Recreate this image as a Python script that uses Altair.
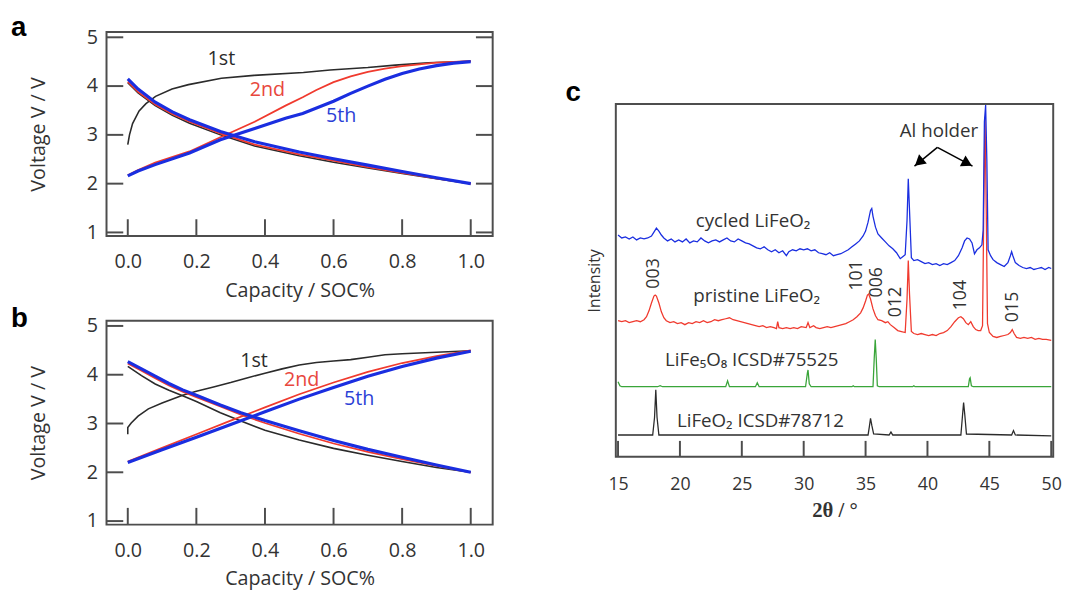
import altair as alt
import pandas as pd

# ---------------- Panel a (voltage curves) ----------------
a_1st_ch_cap = [0.0, 0.005, 0.014, 0.033, 0.053, 0.081, 0.129, 0.177, 0.273, 0.368, 0.512, 0.59, 0.7, 0.78, 0.876, 1.0]
a_1st_ch_v = [2.80, 3.00, 3.23, 3.49, 3.64, 3.79, 3.94, 4.03, 4.16, 4.22, 4.28, 4.33, 4.38, 4.43, 4.48, 4.51]
a_dis_cap = [0.0, 0.03, 0.08, 0.13, 0.18, 0.27, 0.37, 0.5, 0.6, 0.7, 0.8, 0.9, 1.0]
a_1st_dis_v = [4.07, 3.86, 3.60, 3.40, 3.24, 3.00, 2.77, 2.57, 2.44, 2.32, 2.21, 2.10, 2.00]
a_2nd_dis_v = [4.09, 3.88, 3.62, 3.43, 3.27, 3.03, 2.80, 2.60, 2.47, 2.34, 2.22, 2.11, 2.00]
a_5th_dis_v = [4.15, 3.94, 3.67, 3.47, 3.31, 3.07, 2.86, 2.65, 2.51, 2.38, 2.25, 2.12, 2.00]
a_2nd_ch_cap = [0.0, 0.03, 0.08, 0.18, 0.27, 0.37, 0.46, 0.51, 0.55, 0.6, 0.65, 0.7, 0.75, 0.8, 0.9, 1.0]
a_2nd_ch_v = [2.17, 2.28, 2.43, 2.66, 2.95, 3.27, 3.60, 3.77, 3.92, 4.08, 4.20, 4.29, 4.36, 4.41, 4.48, 4.51]
a_5th_ch_cap = [0.0, 0.03, 0.08, 0.18, 0.27, 0.37, 0.46, 0.51, 0.6, 0.65, 0.7, 0.75, 0.8, 0.85, 0.9, 0.95, 1.0]
a_5th_ch_v = [2.16, 2.26, 2.39, 2.63, 2.90, 3.13, 3.34, 3.44, 3.69, 3.85, 4.00, 4.14, 4.26, 4.35, 4.42, 4.47, 4.50]

# ---------------- Panel b ----------------
b_1st_ch_cap = [0.0, 0.0, 0.01, 0.03, 0.06, 0.1, 0.16, 0.2, 0.25, 0.3, 0.35, 0.4, 0.45, 0.5, 0.55, 0.6, 0.65, 0.7, 0.75, 0.8, 0.9, 1.0]
b_1st_ch_v = [2.78, 2.92, 3.01, 3.15, 3.30, 3.42, 3.58, 3.66, 3.75, 3.84, 3.94, 4.03, 4.12, 4.20, 4.25, 4.28, 4.31, 4.36, 4.41, 4.43, 4.46, 4.49]
b_dis_cap = [0.0, 0.04, 0.08, 0.12, 0.16, 0.2, 0.27, 0.33, 0.4, 0.5, 0.6, 0.7, 0.8, 0.9, 1.0]
b_1st_dis_v = [4.17, 3.98, 3.81, 3.68, 3.57, 3.45, 3.22, 3.05, 2.86, 2.66, 2.49, 2.35, 2.22, 2.10, 2.00]
b_2nd_dis_v = [4.23, 4.08, 3.93, 3.78, 3.65, 3.54, 3.35, 3.18, 3.01, 2.79, 2.59, 2.42, 2.27, 2.13, 2.00]
b_5th_dis_v = [4.27, 4.12, 3.97, 3.82, 3.69, 3.58, 3.38, 3.22, 3.06, 2.85, 2.65, 2.47, 2.31, 2.15, 2.00]
b_ch_cap = [0.0, 0.1, 0.2, 0.3, 0.4, 0.5, 0.6, 0.7, 0.8, 0.9, 1.0]
b_2nd_ch_v = [2.22, 2.50, 2.78, 3.06, 3.33, 3.60, 3.84, 4.06, 4.24, 4.38, 4.50]
b_5th_ch_v = [2.20, 2.46, 2.72, 2.98, 3.24, 3.50, 3.74, 3.97, 4.17, 4.34, 4.48]

cycle_names = ["1st", "2nd", "5th"]
a_label_cap = [0.273, 0.407, 0.622]
a_label_v = [4.56, 3.92, 3.39]
b_label_cap = [0.368, 0.507, 0.675]
b_label_v = [4.28, 3.90, 3.51]

x_ticks_ab = [0.0, 0.2, 0.4, 0.6, 0.8, 1.0]
y_ticks_ab = [1, 2, 3, 4, 5]

# ---------------- Panel c (XRD) ----------------
cyc_tt = [15.0, 15.3, 15.6, 15.9, 16.2, 16.5, 16.8, 17.1, 17.4, 17.7, 17.9, 18.1, 18.3, 18.5, 18.7, 19.0, 19.3, 19.6, 19.9, 20.2,
          20.5, 20.8, 21.1, 21.4, 21.7, 22.0, 22.3, 22.6, 22.9, 23.2, 23.5, 23.8, 24.1, 24.4, 24.7, 25.0, 25.3, 25.6, 25.9, 26.2,
          26.5, 26.8, 27.1, 27.4, 27.7, 28.0, 28.3, 28.6, 28.8, 29.1, 29.4, 29.7, 30.0, 30.3, 30.6, 30.9, 31.2, 31.5, 31.8, 32.1,
          32.4, 32.7, 33.0, 33.3, 33.6, 33.9, 34.2, 34.5, 34.8, 35.0, 35.2, 35.4, 35.5, 35.6, 35.8, 36.0, 36.3, 36.6, 36.9, 37.2,
          37.5, 37.8, 38.0, 38.2, 38.35, 38.45, 38.55, 38.7, 38.9, 39.2, 39.5, 39.8, 40.1, 40.4, 40.7, 41.0, 41.3, 41.6, 41.9, 42.2,
          42.5, 42.8, 43.0, 43.2, 43.4, 43.6, 43.8, 44.0, 44.2, 44.4, 44.5, 44.6, 44.7, 44.8, 44.9, 45.1, 45.3, 45.6, 45.9, 46.2,
          46.5, 46.7, 46.8, 46.9, 47.1, 47.4, 47.7, 48.0, 48.3, 48.6, 48.9, 49.2, 49.5, 49.8, 50.0]
cyc_int = [225, 222, 223, 221, 223, 220, 222, 221, 222, 224, 228, 232, 229, 225, 222, 219, 221, 218, 220, 218,
           221, 217, 219, 218, 222, 219, 217, 219, 220, 218, 220, 222, 219, 218, 221, 219, 217, 216, 214, 212,
           211, 213, 210, 208, 210, 207, 209, 204, 208, 210, 209, 211, 210, 211, 209, 210, 207, 206, 205, 207,
           204, 205, 206, 208, 210, 213, 216, 219, 224, 229, 238, 250, 252, 244, 233, 226, 222, 218, 214, 211,
           207, 201, 203, 205, 240, 282, 250, 202, 199, 200, 198, 196, 197, 195, 196, 194, 196, 195, 197, 199,
           204, 212, 219, 222, 221, 217, 206, 210, 212, 215, 230, 340, 357, 300, 210, 204, 200, 197, 195, 193,
           197, 204, 208, 204, 197, 194, 192, 191, 192, 190, 191, 192, 190, 192, 191]

pri_tt = [15.0, 15.3, 15.6, 15.9, 16.2, 16.5, 16.8, 17.1, 17.3, 17.5, 17.7, 17.9, 18.0, 18.1, 18.3, 18.5, 18.7, 18.9, 19.2, 19.5,
          19.8, 20.1, 20.4, 20.7, 21.0, 21.3, 21.6, 21.9, 22.2, 22.5, 22.8, 23.1, 23.4, 23.7, 24.0, 24.3, 24.6, 24.9, 25.2, 25.5,
          25.8, 26.1, 26.4, 26.7, 27.0, 27.3, 27.6, 27.8, 27.9, 28.0, 28.3, 28.6, 28.9, 29.2, 29.5, 29.8, 30.2, 30.35, 30.5, 30.8,
          31.0, 31.3, 31.6, 31.9, 32.2, 32.5, 32.8, 33.1, 33.4, 33.7, 34.0, 34.3, 34.6, 34.8, 35.0, 35.15, 35.25, 35.4, 35.6, 35.8,
          36.0, 36.3, 36.6, 36.8, 37.0, 37.3, 37.6, 37.9, 38.2, 38.35, 38.45, 38.55, 38.7, 38.9, 39.2, 39.5, 39.8, 40.1, 40.4, 40.7,
          41.0, 41.3, 41.6, 41.9, 42.2, 42.5, 42.7, 42.9, 43.1, 43.3, 43.5, 43.7, 43.9, 44.1, 44.3, 44.45, 44.55, 44.65, 44.75, 44.85,
          45.0, 45.3, 45.6, 45.9, 46.2, 46.5, 46.7, 46.85, 47.0, 47.2, 47.5, 47.8, 48.1, 48.4, 48.7, 49.0, 49.3, 49.6, 50.0]
pri_int = [138, 137, 138, 136, 137, 138, 137, 139, 142, 148, 156, 163, 164, 163, 156, 147, 141, 138, 136, 137,
           135, 136, 134, 136, 135, 137, 136, 138, 136, 137, 139, 138, 139, 140, 141, 139, 138, 137, 136, 135,
           134, 133, 132, 133, 131, 132, 131, 130, 137, 131, 130, 131, 130, 131, 130, 132, 131, 136, 131, 133,
           131, 130, 131, 132, 131, 132, 133, 134, 135, 137, 139, 142, 146, 151, 158, 164, 165, 160, 150, 143,
           139, 138, 136, 137, 134, 131, 128, 127, 126, 160, 199, 165, 127, 125, 124, 125, 124, 123, 124, 123,
           125, 126, 128, 132, 137, 141, 142, 140, 136, 134, 137, 132, 129, 128, 128, 133, 250, 345, 250, 135,
           126, 122, 121, 122, 123, 124, 126, 129, 125, 121, 120, 121, 120, 121, 119, 120, 119, 119, 118]

lfo8_tt = [15.0, 15.15, 15.3, 18.2, 18.4, 18.6, 23.7, 23.85, 24.0, 26.1, 26.25, 26.4, 30.15, 30.3, 30.35, 30.45, 30.6, 33.9, 34.0, 34.1,
           35.6, 35.7, 35.78, 35.86, 35.95, 36.1, 38.8, 38.9, 39.0, 43.3, 43.4, 43.45, 43.55, 43.7, 50.0]
lfo8_int = [76, 72, 71, 71, 72, 71, 71, 77, 71, 71, 75, 71, 71, 85, 88, 74, 71, 71, 72, 71,
            71, 100, 119, 100, 72, 71, 71, 72, 71, 71, 79, 80, 72, 71, 71]

lfo_tt = [15.0, 17.8, 17.95, 18.05, 18.15, 18.3, 35.2, 35.3, 35.4, 35.5, 35.65, 36.9, 37.05, 37.2, 42.7, 42.82, 42.92, 43.02, 43.15, 46.8,
          46.95, 47.1, 50.0]
lfo_int = [22, 22, 40, 68, 40, 22, 22, 30, 39, 32, 23, 22, 25, 22, 22, 40, 55, 42, 23, 22,
           26.5, 22, 21]

hkl_labels = ["003", "101", "006", "012", "104", "015"]
hkl_tt = [17.9, 34.33, 35.92, 37.43, 42.68, 46.9]
hkl_int = [186, 184, 177, 157, 164, 152]

trace_labels = ["cycled LiFeO\u2082", "pristine LiFeO\u2082", "LiFe\u2085O\u2088 ICSD#75525", "LiFeO\u2082 ICSD#78712"]
trace_label_tt = [25.9, 26.2, 25.8, 26.5]
trace_label_int = [239, 163, 98, 36]

x_ticks_c = [15, 20, 25, 30, 35, 40, 45, 50]

# Al holder annotation (data coordinates)
al_text_tt, al_text_int = 40.93, 321
arrow_apex = (40.8, 314)
arrow_tips = [(38.95, 295), (43.64, 295)]
arrow_heads_tt = [39.31, 43.22]
arrow_heads_int = [298.8, 297.8]
arrow_heads_angle = [230, 118]

# ---------------- styling ----------------
FRAME = "#4d4d4d"
TXT = "#333333"
BLACK = "#2b2b2b"
RED = "#f03a2e"
BLUE = "#1a2ee0"
GREEN = "#3aa53a"
FONT = "Open Sans"

W_AB, H_AB = 392, 207
XD_AB = [-0.062, 1.064]
YD_AB = [0.927, 5.107]
W_C, H_C = 444, 358
XD_C = [14.82, 50.16]
YD_C = [0, 358]
TICK_PX = 17
X_PER_PX = (XD_AB[1] - XD_AB[0]) / W_AB
Y_PER_PX = (YD_AB[1] - YD_AB[0]) / H_AB


def long_df(specs):
    rows = []
    for cyc, branch, caps, vs in specs:
        for i, (c, v) in enumerate(zip(caps, vs)):
            rows.append({"cycle": cyc, "branch": branch, "cap": c, "v": v, "i": i})
    return pd.DataFrame(rows)


def voltage_panel(df, lab_cap, lab_v, letter, letter_y, right_ticks):
    xs = alt.Scale(domain=XD_AB, nice=False, zero=False)
    ys = alt.Scale(domain=YD_AB, nice=False, zero=False)
    xax = alt.Axis(values=x_ticks_ab, format=".1f", ticks=False, domain=False, grid=False,
                   labelFontSize=20, labelPadding=16, labelFlush=False,
                   title="Capacity / SOC%", titleFontSize=20, titlePadding=9)
    yax = alt.Axis(values=y_ticks_ab, format="d", ticks=False, domain=False, grid=False,
                   labelFontSize=20, labelPadding=9,
                   title="Voltage V / V", titleFontSize=20, titlePadding=39)
    layers = []
    for cyc, col, sw in [("1st", BLACK, 1.6), ("2nd", RED, 1.8), ("5th", BLUE, 3.2)]:
        layers.append(
            alt.Chart(df[df.cycle == cyc]).mark_line(color=col, strokeWidth=sw, clip=True).encode(
                x=alt.X("cap:Q", scale=xs, axis=xax),
                y=alt.Y("v:Q", scale=ys, axis=yax),
                detail="branch:N",
                order="i:Q",
            )
        )
    # inward tick marks drawn as data-space rules
    xt = pd.DataFrame({"t": x_ticks_ab, "lo": YD_AB[0], "hi": YD_AB[0] + TICK_PX * Y_PER_PX})
    layers.append(alt.Chart(xt).mark_rule(color=FRAME, strokeWidth=2).encode(
        x=alt.X("t:Q", scale=xs, axis=xax), y=alt.Y("lo:Q", scale=ys, axis=yax), y2="hi:Q"))
    ytl = pd.DataFrame({"t": y_ticks_ab, "lo": XD_AB[0], "hi": XD_AB[0] + TICK_PX * X_PER_PX})
    layers.append(alt.Chart(ytl).mark_rule(color=FRAME, strokeWidth=2).encode(
        y=alt.Y("t:Q", scale=ys, axis=yax), x=alt.X("lo:Q", scale=xs, axis=xax), x2="hi:Q"))
    if right_ticks:
        ytr = pd.DataFrame({"t": y_ticks_ab, "lo": XD_AB[1] - TICK_PX * X_PER_PX, "hi": XD_AB[1]})
        layers.append(alt.Chart(ytr).mark_rule(color=FRAME, strokeWidth=2).encode(
            y=alt.Y("t:Q", scale=ys, axis=yax), x=alt.X("lo:Q", scale=xs, axis=xax), x2="hi:Q"))
    lab = pd.DataFrame({"name": cycle_names, "cap": lab_cap, "v": lab_v})
    layers.append(alt.Chart(lab).mark_text(font=FONT, fontSize=20, align="center", baseline="middle").encode(
        x=alt.X("cap:Q", scale=xs, axis=xax), y=alt.Y("v:Q", scale=ys, axis=yax), text="name:N",
        color=alt.Color("name:N", scale=alt.Scale(domain=cycle_names, range=[BLACK, "#e8473d", "#2b3fd6"]), legend=None)))
    layers.append(alt.Chart(pd.DataFrame({"t": [letter]})).mark_text(
        font="Liberation Sans", fontSize=28, fontWeight="bold", align="left", baseline="alphabetic", color="black").encode(
        x=alt.value(-97), y=alt.value(letter_y), text="t:N"))
    return alt.layer(*layers).properties(width=W_AB, height=H_AB)


dfa = long_df([
    ("1st", "ch", a_1st_ch_cap, a_1st_ch_v),
    ("1st", "dis", a_dis_cap, a_1st_dis_v),
    ("2nd", "ch", a_2nd_ch_cap, a_2nd_ch_v),
    ("2nd", "dis", a_dis_cap, a_2nd_dis_v),
    ("5th", "ch", a_5th_ch_cap, a_5th_ch_v),
    ("5th", "dis", a_dis_cap, a_5th_dis_v),
])
dfb = long_df([
    ("1st", "ch", b_1st_ch_cap, b_1st_ch_v),
    ("1st", "dis", b_dis_cap, b_1st_dis_v),
    ("2nd", "ch", b_ch_cap, b_2nd_ch_v),
    ("2nd", "dis", b_dis_cap, b_2nd_dis_v),
    ("5th", "ch", b_ch_cap, b_5th_ch_v),
    ("5th", "dis", b_dis_cap, b_5th_dis_v),
])

pa = voltage_panel(dfa, a_label_cap, a_label_v, "a", 4, True)
pb = voltage_panel(dfb, b_label_cap, b_label_v, "b", 6, False)

# ---------------- XRD panel ----------------
xs_c = alt.Scale(domain=XD_C, nice=False, zero=False)
ys_c = alt.Scale(domain=YD_C, nice=False, zero=False)
xax_c = alt.Axis(values=x_ticks_c, format="d", ticks=False, domain=False, grid=False,
                 labelFontSize=18, labelPadding=19, labelFlush=False,
                 title="2\u03b8 / \u00b0", titleFont="Liberation Serif", titleFontWeight="bold",
                 titleFontSize=21, titlePadding=7)
yax_c = alt.Axis(labels=False, ticks=False, domain=False, grid=False,
                 title="Intensity", titleFontSize=16, titlePadding=14)

xrd_layers = []
for tt, iv, col in [(lfo_tt, lfo_int, BLACK), (lfo8_tt, lfo8_int, GREEN), (pri_tt, pri_int, RED), (cyc_tt, cyc_int, BLUE)]:
    d = pd.DataFrame({"tt": tt, "I": iv})
    xrd_layers.append(alt.Chart(d).mark_line(color=col, strokeWidth=1.3, clip=True).encode(
        x=alt.X("tt:Q", scale=xs_c, axis=xax_c), y=alt.Y("I:Q", scale=ys_c, axis=yax_c)))

xtc = pd.DataFrame({"t": x_ticks_c, "lo": YD_C[0], "hi": YD_C[0] + 16})
xrd_layers.append(alt.Chart(xtc).mark_rule(color=FRAME, strokeWidth=2).encode(
    x=alt.X("t:Q", scale=xs_c, axis=xax_c), y=alt.Y("lo:Q", scale=ys_c, axis=yax_c), y2="hi:Q"))

hkl = pd.DataFrame({"lab": hkl_labels, "tt": hkl_tt, "I": hkl_int})
xrd_layers.append(alt.Chart(hkl).mark_text(font=FONT, fontSize=18, angle=270, align="center", baseline="middle", color=TXT).encode(
    x=alt.X("tt:Q", scale=xs_c, axis=xax_c), y=alt.Y("I:Q", scale=ys_c, axis=yax_c), text="lab:N"))

tl = pd.DataFrame({"lab": trace_labels, "tt": trace_label_tt, "I": trace_label_int})
xrd_layers.append(alt.Chart(tl).mark_text(font=FONT, fontSize=19, align="center", baseline="middle", color=TXT).encode(
    x=alt.X("tt:Q", scale=xs_c, axis=xax_c), y=alt.Y("I:Q", scale=ys_c, axis=yax_c), text="lab:N"))

al = pd.DataFrame({"lab": ["Al holder"], "tt": [al_text_tt], "I": [al_text_int]})
xrd_layers.append(alt.Chart(al).mark_text(font=FONT, fontSize=19, align="center", baseline="bottom", color=TXT).encode(
    x=alt.X("tt:Q", scale=xs_c, axis=xax_c), y=alt.Y("I:Q", scale=ys_c, axis=yax_c), text="lab:N"))

arr = pd.DataFrame({"x0": [arrow_apex[0]] * 2, "y0": [arrow_apex[1]] * 2,
                    "x1": [t[0] for t in arrow_tips], "y1": [t[1] for t in arrow_tips]})
xrd_layers.append(alt.Chart(arr).mark_rule(color="black", strokeWidth=1.5).encode(
    x=alt.X("x0:Q", scale=xs_c, axis=xax_c), y=alt.Y("y0:Q", scale=ys_c, axis=yax_c), x2="x1:Q", y2="y1:Q"))
heads = pd.DataFrame({"tt": arrow_heads_tt, "I": arrow_heads_int, "ang": arrow_heads_angle})
xrd_layers.append(alt.Chart(heads).mark_point(shape="triangle-up", filled=True, color="black", opacity=1, size=150).encode(
    x=alt.X("tt:Q", scale=xs_c, axis=xax_c), y=alt.Y("I:Q", scale=ys_c, axis=yax_c),
    angle=alt.Angle("ang:Q", scale=None)))

xrd_layers.append(alt.Chart(pd.DataFrame({"t": ["c"]})).mark_text(
    font="Liberation Sans", fontSize=28, fontWeight="bold", align="left", baseline="alphabetic", color="black").encode(
    x=alt.value(-51), y=alt.value(-3), text="t:N"))

pc = alt.layer(*xrd_layers).properties(width=W_C, height=H_C)

spacer = alt.Chart(pd.DataFrame({"t": [""]})).mark_text().encode(
    text="t:N", x=alt.value(0), y=alt.value(0)).properties(
    width=W_C, height=73, view=alt.ViewBackground(stroke="transparent"))

left = alt.vconcat(pa, pb, spacing=86, bounds="flush")
right = alt.vconcat(spacer, pc, spacing=0, bounds="flush")
chart = alt.hconcat(left, right, spacing=71).properties(
    padding={"left": 2, "top": 1, "right": 4, "bottom": 2}
).configure_view(stroke=FRAME, strokeWidth=2).configure_axis(
    labelFont=FONT, titleFont=FONT, labelColor=TXT, titleColor=TXT, titleFontWeight="normal"
)

chart.save("out.html", embed_options={"renderer": "svg", "actions": False})
